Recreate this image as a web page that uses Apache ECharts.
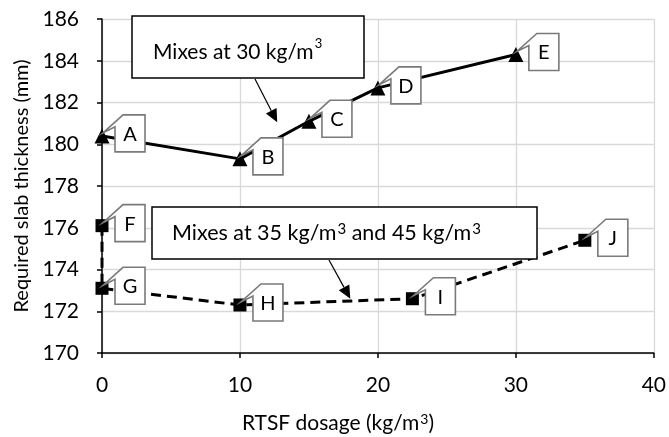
<!DOCTYPE html>
<html><head><meta charset="utf-8">
<script src="https://cdn.jsdelivr.net/npm/echarts@6/dist/echarts.min.js"></script>
<style>html,body{margin:0;padding:0;background:#fff}#c{width:669px;height:437px}</style>
</head><body><div id="c"></div>
<script>
// Series at 30 kg/m3 (solid, triangles)
var xs30 = [0, 10, 15, 20, 30];
var ys30 = [180.4, 179.3, 181.1, 182.7, 184.3];
var names30 = ['A', 'B', 'C', 'D', 'E'];
// Series at 35 and 45 kg/m3 (dashed, squares)
var xs35 = [0, 0, 10, 22.5, 35];
var ys35 = [176.1, 173.1, 172.3, 172.6, 175.4];
var names35 = ['F', 'G', 'H', 'I', 'J'];
var xTicks = [0, 10, 20, 30, 40];
var yTicks = [170, 172, 174, 176, 178, 180, 182, 184, 186];
var note30 = 'Mixes at 30 kg/m';
var note35a = 'Mixes at 35 kg/m';
var note35b = ' and 45 kg/m';
var xTitle = 'RTSF dosage (kg/m';
var yTitle = 'Required slab thickness (mm)';

var FONT = 'Lato';
var TXT = '#000';

function pairs(xs, ys) { return xs.map(function (x, i) { return [x, ys[i]]; }); }
function calloutData(xs, ys) { return xs.map(function (x, i) { return [x, ys[i]]; }); }

function renderCallout(params, api) {
  var p = api.coord([api.value(0), api.value(1)]);
  var L = p[0] + 13, T = p[1] - 21, W = 30, H = 37;
  var R = L + W, B = T + H;
  var tip = [p[0] + 1, p[1] - 3];
  var data = params.seriesIndex === 2 ? names30 : names35;
  return {
    type: 'group',
    children: [
      {
        type: 'polygon',
        shape: { points: [[L + 8, T], [R, T], [R, B], [L, B], [L, T + 12], tip] },
        style: { fill: '#fff', stroke: '#7a7a7a', lineWidth: 1.6 }
      },
      {
        type: 'text',
        style: { text: data[params.dataIndex], x: L + W / 2, y: T + H / 2 + 1, align: 'center', verticalAlign: 'middle',
          font: '20px ' + FONT, fill: TXT }
      }
    ]
  };
}

var chart = echarts.init(document.getElementById('c'), null, { renderer: 'canvas' });
var option = {
  animation: false,
  grid: { left: 102, right: 13, top: 19, bottom: 84, containLabel: false },
  xAxis: {
    type: 'value', min: 0, max: 40, interval: 10,
    axisLine: { show: true, lineStyle: { color: '#000', width: 1.5 } },
    axisTick: { show: true, length: 5, lineStyle: { color: '#000', width: 1.5 } },
    axisLabel: { color: TXT, fontFamily: FONT, fontSize: 21, margin: 22,
      formatter: function (v) { return xTicks.indexOf(v) >= 0 ? String(v) : ''; } },
    splitLine: { show: true, lineStyle: { color: '#d9d9d9', width: 1.3 } }
  },
  yAxis: {
    type: 'value', min: 170, max: 186, interval: 2,
    name: yTitle, nameLocation: 'middle', nameGap: 69,
    nameTextStyle: { color: TXT, fontFamily: FONT, fontSize: 20 },
    axisLine: { show: true, lineStyle: { color: '#000', width: 1.5 } },
    axisTick: { show: true, length: 5, lineStyle: { color: '#000', width: 1.5 } },
    axisLabel: { color: TXT, fontFamily: FONT, fontSize: 21, margin: 23,
      formatter: function (v) { return yTicks.indexOf(v) >= 0 ? String(v) : ''; } },
    splitLine: { show: true, lineStyle: { color: '#d9d9d9', width: 1.3 } }
  },
  series: [
    {
      type: 'line', data: pairs(xs30, ys30), symbol: 'triangle', symbolSize: 15,
      lineStyle: { color: '#000', width: 3 }, itemStyle: { color: '#000' }, z: 3
    },
    {
      type: 'line', data: pairs(xs35, ys35), symbol: 'rect', symbolSize: 13,
      lineStyle: { color: '#000', width: 3, type: [10, 6] }, itemStyle: { color: '#000' }, z: 3
    },
    { type: 'custom', renderItem: renderCallout, data: calloutData(xs30, ys30), z: 5, clip: false },
    { type: 'custom', renderItem: renderCallout, data: calloutData(xs35, ys35), z: 5, clip: false }
  ]
};
chart.setOption(option);

function arrow(x1, y1, x2, y2) {
  var ang = Math.atan2(y2 - y1, x2 - x1);
  var len = 13, half = 6;
  var bx = x2 - len * Math.cos(ang), by = y2 - len * Math.sin(ang);
  var nx = -Math.sin(ang), ny = Math.cos(ang);
  return [
    { type: 'line', shape: { x1: x1, y1: y1, x2: bx, y2: by }, style: { stroke: '#000', lineWidth: 1.2 }, z: 10 },
    { type: 'polygon', shape: { points: [[x2, y2], [bx + nx * half, by + ny * half], [bx - nx * half, by - ny * half]] },
      style: { fill: '#000' }, z: 10 }
  ];
}

var tip1 = chart.convertToPixel({ gridIndex: 0 }, [12.7, 181.05]);
var tip2 = chart.convertToPixel({ gridIndex: 0 }, [18.0, 172.6]);

function richSup(size, supSize, raise) {
  return { a: { font: size + 'px ' + FONT, fill: TXT }, s: { font: supSize + 'px ' + FONT, fill: TXT, padding: [0, 0, raise, 1] } };
}

var graphics = [
  { type: 'rect', shape: { x: 132, y: 16, width: 232, height: 62 }, style: { fill: '#fff', stroke: '#000', lineWidth: 1.5 }, z: 10 },
  { type: 'text', z: 11, style: { x: 153, y: 52, text: '{a|' + note30 + '}{s|3}', verticalAlign: 'middle',
      rich: { a: { font: '21px ' + FONT, fill: TXT }, s: { font: '13px ' + FONT, fill: TXT, padding: [0, 0, 16, 1] } } } },
  { type: 'rect', shape: { x: 152, y: 207, width: 385, height: 52 }, style: { fill: '#fff', stroke: '#000', lineWidth: 1.5 }, z: 10 },
  { type: 'text', z: 11, style: { x: 172, y: 233, text: '{a|' + note35a + '}{s|3}{a|' + note35b + '}{s|3}', verticalAlign: 'middle',
      rich: richSup(21.5, 15, 8) } },
  { type: 'text', z: 11, style: { x: 338, y: 423, text: '{a|' + xTitle + '}{s|3}{a|)}', align: 'center', verticalAlign: 'middle',
      rich: richSup(21, 14, 8) } }
];
graphics = graphics.concat(arrow(255, 79, tip1[0], tip1[1]));
graphics = graphics.concat(arrow(329, 260, tip2[0], tip2[1]));
chart.setOption({ graphic: graphics });
</script></body></html>
